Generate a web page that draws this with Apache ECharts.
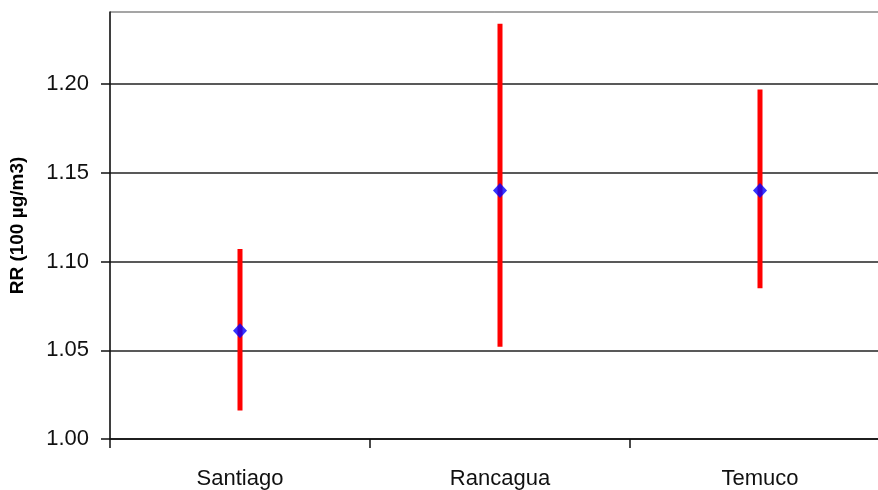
<!DOCTYPE html>
<html>
<head>
<meta charset="utf-8">
<script src="https://cdn.jsdelivr.net/npm/echarts@6/dist/echarts.min.js"></script>
<style>
html,body{margin:0;padding:0;background:#fff;}
#chart{width:878px;height:490px;}
</style>
</head>
<body>
<div id="chart"></div>
<script>
const categories = ['Santiago', 'Rancagua', 'Temuco'];
const centerValues = [1.061, 1.140, 1.140];
const lowerValues = [1.016, 1.052, 1.085];
const upperValues = [1.107, 1.234, 1.197];
const yTicks = [1.00, 1.05, 1.10, 1.15, 1.20];

const chart = echarts.init(document.getElementById('chart'), null, {renderer: 'canvas'});

const errData = categories.map((c, i) => [i, lowerValues[i], upperValues[i]]);
const ptData = categories.map((c, i) => [i, centerValues[i]]);

chart.setOption({
  animation: false,
  backgroundColor: '#fff',
  grid: {left: 110, top: 12, width: 780, height: 427, outerBoundsMode: 'none', containLabel: false,
         show: true, borderColor: '#999', borderWidth: 1},
  xAxis: {
    type: 'category',
    data: categories,
    boundaryGap: true,
    axisLine: {lineStyle: {color: '#111', width: 1.5}},
    axisTick: {show: true, length: 9, alignWithLabel: false, lineStyle: {color: '#111', width: 1.5}},
    axisLabel: {color: '#111', fontFamily: 'Liberation Sans, Arial', fontSize: 22, margin: 29},
    splitLine: {show: false}
  },
  yAxis: {
    type: 'value',
    min: yTicks[0],
    max: 1.2406,
    interval: 0.05,
    name: 'RR (100 µg/m3)',
    nameLocation: 'middle',
    nameRotate: 90,
    nameGap: 83,
    nameTextStyle: {color: '#000', fontFamily: 'Liberation Sans, Arial', fontSize: 19, fontWeight: 'bold'},
    axisLine: {show: true, lineStyle: {color: '#111', width: 1.5}},
    axisTick: {show: true, length: 9, lineStyle: {color: '#111', width: 1.5}},
    axisLabel: {
      color: '#111', fontFamily: 'Liberation Sans, Arial', fontSize: 22, margin: 21,
      showMaxLabel: false,
      formatter: v => (yTicks.some(t => Math.abs(t - v) < 1e-6) ? v.toFixed(2) : '')
    },
    splitLine: {show: true, lineStyle: {color: ['#222', '#222', '#222', '#222', '#222', '#999'], width: 1.5}}
  },
  series: [
    {
      type: 'custom',
      data: errData,
      renderItem: function (params, api) {
        const x = api.value(0);
        const p1 = api.coord([x, api.value(1)]);
        const p2 = api.coord([x, api.value(2)]);
        return {
          type: 'line',
          shape: {x1: p1[0], y1: p1[1], x2: p2[0], y2: p2[1]},
          style: {stroke: '#ff0000', lineWidth: 5}
        };
      },
      z: 2
    },
    {
      type: 'scatter',
      data: ptData,
      symbol: 'diamond',
      symbolSize: [14, 15],
      itemStyle: {color: '#0000ff'},
      z: 3
    }
  ]
});
</script>
</body>
</html>
